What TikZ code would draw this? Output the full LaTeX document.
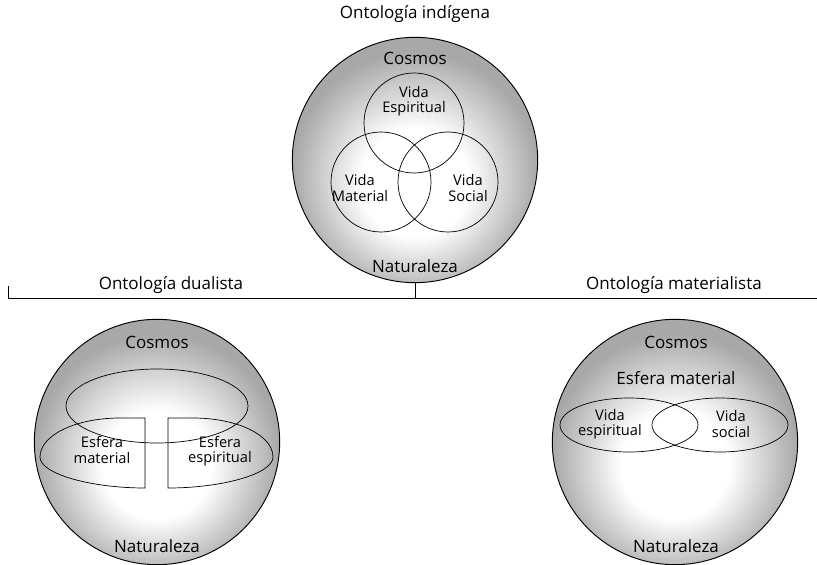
\documentclass[tikz,border=0pt]{standalone}
\usepackage{fontspec}
\setmainfont{Open Sans}
\usetikzlibrary{positioning}
\pgfdeclareradialshading{esfera}{\pgfpoint{0bp}{-6bp}}{color(0bp)=(white); color(11bp)=(white); color(25bp)=(black!34); color(50bp)=(black!34)}
\tikzset{
  esf/.style={circle, draw, line width=0.8pt, shading=esfera, minimum size=7.36cm, inner sep=0pt},
  vida/.style={circle, draw, line width=0.6pt, minimum size=3cm, inner sep=0pt},
  titulo/.style={font=\fontsize{14.5}{16}\selectfont},
  etiq/.style={font=\fontsize{12.5}{13}\selectfont, align=center}
}
\begin{document}
\begin{tikzpicture}[x=0.03cm, y=-0.03cm, line width=0.6pt]
\useasboundingbox (0,0) rectangle (817,565);
% ontologia indigena
\node[titulo] (tIndigena) at (415,14) {Ontología indígena};
\node[esf] (indigena) at (415,160) {};
\node[titulo] at (415,58) {Cosmos};
\node[titulo] at (415,266) {Naturaleza};
\node[vida] (espiritual) at (414,123) {};
\node[vida] (material) at (381,182) {};
\node[vida] (social) at (448,182) {};
\node[etiq] at (414,101) {Vida\\Espiritual};
\node[etiq] at (360,188) {Vida\\Material};
\node[etiq] at (468,188) {Vida\\Social};
% ramas
\coordinate (rama) at (8,298);
\coordinate (finRama) at (817,298);
\draw (8,286) -- (rama) -- (finRama);
\draw (indigena.south) -- (indigena.south |- rama);
\node[titulo] (tDualista) at (171,285) {Ontología dualista};
\node[titulo] (tMaterialista) at (674,285) {Ontología materialista};
% ontologia dualista
\node[esf] (dualista) at (157,442) {};
\node[titulo] at (157,342) {Cosmos};
\node[titulo] at (157,546) {Naturaleza};
\draw (145,418) -- (120,418) .. controls (76,418) and (40,435) .. (40,457)
  .. controls (40,474) and (91,488) .. (145,488) -- cycle;
\draw (168,418) -- (193,418) .. controls (237,418) and (273,435) .. (273,457)
  .. controls (273,474) and (222,488) .. (168,488) -- cycle;
\draw (157,406) ellipse (91 and 37);
\node[etiq] at (102,450) {Esfera\\material};
\node[etiq] at (220,451) {Esfera\\espiritual};
% ontologia materialista
\node[esf] (materialista) at (675,442) {};
\node[titulo] at (676,342) {Cosmos};
\node[titulo] at (676,378) {Esfera material};
\node[titulo] at (676,546) {Naturaleza};
\draw (629,425) ellipse (69 and 27);
\draw (720,425) ellipse (68 and 27);
\node[etiq] at (610,424) {Vida\\espiritual};
\node[etiq] at (731,424) {Vida\\social};
\end{tikzpicture}
\end{document}
